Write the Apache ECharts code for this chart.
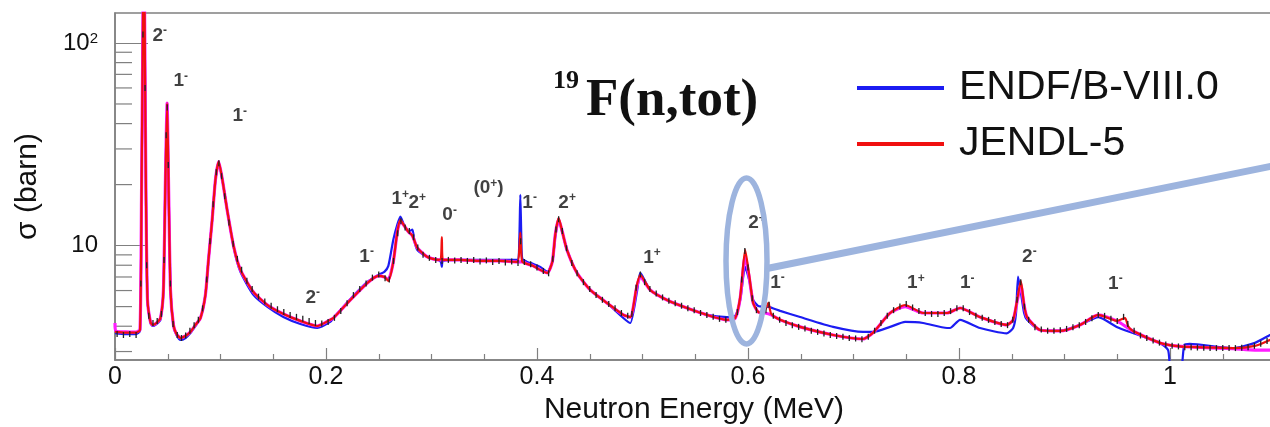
<!DOCTYPE html>
<html>
<head>
<meta charset="utf-8">
<script src="https://cdn.jsdelivr.net/npm/echarts@6/dist/echarts.min.js"></script>
<style>
  html, body { margin: 0; padding: 0; background: #ffffff; }
  #chart { width: 1270px; height: 427px; }
</style>
</head>
<body>
<div id="chart"></div>
<script>
// Total cross section of 19F, [neutron energy (MeV), sigma (barn)]

// ENDF/B-VIII.0 evaluation
const endfB8 = [
  [0,3.70],[0.010,3.66],[0.020,3.66],[0.0237,3.79],[0.0251,16.8],[0.0265,130],[0.0273,400],[0.0281,130],
  [0.0294,16.8],[0.0308,5.39],[0.0336,4.15],[0.0355,4.01],[0.0393,4.10],[0.0431,4.30],[0.0459,6.04],
  [0.0478,21.1],[0.0494,50.0],[0.0507,21.1],[0.0526,6.04],[0.0554,4.01],[0.0583,3.62],[0.0621,3.42],
  [0.0668,3.50],[0.0715,3.70],[0.0763,4.01],[0.0810,4.39],[0.0857,5.71],[0.0886,8.50],[0.0921,13.4],
  [0.0952,21.1],[0.0983,25.7],[0.1018,21.1],[0.1063,15.0],[0.1126,9.74],[0.1189,7.42],[0.1312,5.71],
  [0.1445,4.98],[0.1596,4.44],[0.1757,4.10],[0.1918,3.92],[0.2040,4.20],[0.2070,4.39],[0.2231,5.45],
  [0.2392,6.62],[0.2496,7.17],[0.2553,7.42],[0.2591,7.94],[0.2638,10.7],[0.2676,12.7],[0.2705,13.9],
  [0.2743,12.5],[0.2781,11.7],[0.2819,12.0],[0.2838,10.5],[0.2866,9.52],[0.2961,8.79],[0.3065,8.50],
  [0.3089,8.31],[0.3098,7.85],[0.3108,8.40],[0.3273,8.50],[0.3463,8.50],[0.3652,8.50],[0.3813,8.50],
  [0.3832,10.7],[0.3842,17.8],[0.3852,10.7],[0.3861,8.60],[0.3908,8.31],[0.3965,8.12],[0.4031,7.85],
  [0.4098,7.42],[0.4145,8.31],[0.4173,11.0],[0.4205,13.4],[0.4240,11.6],[0.4284,9.52],[0.4379,7.33],
  [0.4505,6.04],[0.4663,5.21],[0.4818,4.39],[0.4884,4.15],[0.4947,5.90],[0.4979,7.33],[0.5073,6.04],
  [0.5232,5.39],[0.5421,4.92],[0.5611,4.55],[0.5800,4.44],[0.5879,4.50],[0.5926,5.39],[0.5973,7.85],
  [0.6011,6.77],[0.6049,5.39],[0.6097,5.04],[0.6194,4.98],[0.6305,4.76],[0.6494,4.44],[0.6807,3.97],
  [0.7091,3.75],[0.7186,3.75],[0.7347,3.97],[0.7490,4.20],[0.7660,4.15],[0.7887,3.92],[0.7915,3.92],
  [0.8010,4.30],[0.8199,3.92],[0.8453,3.69],[0.8513,3.92],[0.8540,4.60],[0.8560,7.04],[0.8586,5.90],
  [0.8617,4.65],[0.8645,4.30],[0.8768,3.83],[0.8957,3.79],[0.9147,4.06],[0.9321,4.44],[0.9495,3.97],
  [0.9649,3.70],[0.9905,3.31],[0.9982,3.05],[1.0010,2.40],[1.0100,2.40],[1.0135,3.23],[1.0187,3.27],
  [1.0598,3.12],[1.0805,3.31],[1.0947,3.62],[1.1000,3.75]
];

// JENDL-5 evaluation
const jendl5 = [
  [0,3.75],[0.010,3.72],[0.020,3.72],[0.0237,3.83],[0.0251,16.8],[0.0265,130],[0.0273,400],[0.0281,130],
  [0.0294,16.8],[0.0308,5.39],[0.0336,4.20],[0.0355,4.06],[0.0393,4.15],[0.0431,4.39],[0.0459,6.04],
  [0.0478,21.1],[0.0494,50.5],[0.0507,21.1],[0.0526,6.04],[0.0554,4.06],[0.0583,3.66],[0.0621,3.50],
  [0.0668,3.58],[0.0715,3.75],[0.0763,4.06],[0.0810,4.39],[0.0857,5.71],[0.0886,8.50],[0.0921,13.4],
  [0.0952,21.1],[0.0983,26.0],[0.1018,21.1],[0.1063,15.0],[0.1126,9.85],[0.1189,7.59],[0.1312,5.90],
  [0.1445,5.09],[0.1596,4.60],[0.1757,4.25],[0.1918,4.01],[0.2040,4.30],[0.2070,4.39],[0.2231,5.39],
  [0.2392,6.54],[0.2496,7.09],[0.2553,7.00],[0.2591,6.69],[0.2638,8.31],[0.2676,11.7],[0.2705,13.4],
  [0.2743,12.5],[0.2781,11.7],[0.2819,11.2],[0.2866,9.74],[0.2961,8.79],[0.3065,8.50],[0.3089,8.60],
  [0.3098,11.0],[0.3108,8.50],[0.3273,8.50],[0.3463,8.40],[0.3652,8.40],[0.3813,8.31],[0.3832,9.5],
  [0.3842,11.6],[0.3852,9.0],[0.3861,8.31],[0.3908,8.12],[0.3965,7.94],[0.4031,7.59],[0.4098,7.33],
  [0.4145,8.31],[0.4173,11.3],[0.4205,13.7],[0.4240,11.7],[0.4284,9.52],[0.4379,7.33],[0.4505,6.04],
  [0.4663,5.21],[0.4818,4.55],[0.4884,4.44],[0.4947,6.40],[0.4979,7.17],[0.5073,6.04],[0.5232,5.39],
  [0.5421,4.92],[0.5611,4.55],[0.5800,4.30],[0.5879,4.39],[0.5926,5.58],[0.5973,9.52],[0.6011,7.17],
  [0.6049,5.21],[0.6097,4.70],[0.6134,4.65],[0.6163,4.81],[0.6194,5.21],[0.6220,4.60],[0.6305,4.30],
  [0.6494,3.97],[0.6807,3.62],[0.7091,3.46],[0.7186,3.72],[0.7347,4.65],[0.7490,5.09],[0.7660,4.65],
  [0.7887,4.65],[0.8010,4.92],[0.8199,4.44],[0.8453,4.06],[0.8513,4.30],[0.8551,5.39],[0.8586,6.69],
  [0.8617,5.09],[0.8645,4.44],[0.8768,3.83],[0.8957,3.79],[0.9147,4.06],[0.9321,4.55],[0.9495,4.25],
  [0.9574,4.39],[0.9602,4.01],[0.9649,3.79],[0.9905,3.31],[1.0047,3.20],[1.0187,3.16],[1.0598,3.12],
  [1.0805,3.20],[1.0947,3.42],[1.1000,3.50]
];

// R-matrix fit
const rmatrixFit = [
  [0,4.15],[0.0008,3.79],[0.010,3.75],[0.020,3.74],[0.0237,3.85],[0.0251,16.8],[0.0265,130],[0.0273,400],
  [0.0281,130],[0.0294,16.8],[0.0308,5.39],[0.0336,4.20],[0.0355,4.06],[0.0393,4.15],[0.0431,4.39],
  [0.0459,6.04],[0.0478,21.1],[0.0494,50.5],[0.0507,21.1],[0.0526,6.04],[0.0554,4.06],[0.0583,3.66],
  [0.0621,3.50],[0.0668,3.58],[0.0715,3.75],[0.0763,4.06],[0.0810,4.39],[0.0857,5.71],[0.0886,8.50],
  [0.0921,13.4],[0.0952,21.1],[0.0983,26.0],[0.1018,21.1],[0.1063,15.0],[0.1126,9.85],[0.1189,7.59],
  [0.1312,5.90],[0.1445,5.09],[0.1596,4.60],[0.1757,4.25],[0.1918,4.01],[0.2040,4.30],[0.2070,4.39],
  [0.2231,5.39],[0.2392,6.54],[0.2496,7.09],[0.2553,7.00],[0.2591,6.80],[0.2638,8.31],[0.2676,11.7],
  [0.2705,13.2],[0.2743,12.5],[0.2781,11.7],[0.2819,11.2],[0.2866,9.74],[0.2961,8.79],[0.3065,8.50],
  [0.3273,8.50],[0.3463,8.40],[0.3652,8.40],[0.3813,8.31],[0.3861,8.31],[0.3908,8.12],[0.3965,7.94],
  [0.4031,7.59],[0.4098,7.33],[0.4145,8.31],[0.4173,11.3],[0.4205,13.5],[0.4240,11.7],[0.4284,9.52],
  [0.4379,7.33],[0.4505,6.04],[0.4663,5.21],[0.4818,4.55],[0.4884,4.44],[0.4947,6.30],[0.4979,7.00],
  [0.5073,6.04],[0.5232,5.39],[0.5421,4.92],[0.5611,4.55],[0.5800,4.30],[0.5879,4.39],[0.5926,5.50],
  [0.5973,8.90],[0.6011,7.00],[0.6049,5.21],[0.6097,4.70],[0.6163,4.65],[0.6220,4.55],[0.6305,4.30],
  [0.6494,3.97],[0.6807,3.62],[0.7091,3.46],[0.7186,3.72],[0.7347,4.65],[0.7490,5.00],[0.7660,4.65],
  [0.7887,4.65],[0.8010,4.92],[0.8199,4.44],[0.8453,4.06],[0.8513,4.30],[0.8551,5.30],[0.8586,6.40],
  [0.8617,5.09],[0.8645,4.44],[0.8768,3.83],[0.8957,3.79],[0.9147,4.06],[0.9321,4.55],[0.9495,4.25],
  [0.9649,3.79],[0.9905,3.31],[1.0047,3.20],[1.0187,3.16],[1.0598,3.10],[1.0805,3.05],[1.1000,3.05]
];

// Transmission measurement
const measured = [
  [0.002,3.66],[0.008,3.62],[0.014,3.66],[0.020,3.62],[0.0245,6.5],[0.0265,110],[0.0275,180],[0.0285,60],
  [0.030,8.0],[0.032,4.5],[0.036,4.15],[0.040,4.25],[0.044,4.6],[0.0465,8.5],[0.0485,35],[0.0495,48],
  [0.0505,25],[0.0525,6.5],[0.055,4.1],[0.059,3.62],[0.063,3.50],[0.067,3.60],[0.071,3.80],[0.075,4.05],
  [0.079,4.3],[0.083,4.9],[0.087,6.8],[0.090,10.5],[0.093,16],[0.096,23],[0.0985,25.5],[0.101,22],
  [0.104,17.5],[0.108,13],[0.112,10.2],[0.116,8.6],[0.120,7.6],[0.125,6.7],[0.130,6.1],[0.136,5.6],
  [0.142,5.3],[0.148,5.05],[0.154,4.85],[0.160,4.7],[0.166,4.55],[0.172,4.45],[0.178,4.35],[0.184,4.25],
  [0.190,4.15],[0.196,4.12],[0.202,4.2],[0.208,4.4],[0.214,4.75],[0.220,5.2],[0.226,5.7],[0.232,6.1],
  [0.238,6.5],[0.244,6.95],[0.250,7.2],[0.256,6.9],[0.260,6.8],[0.264,8.4],[0.268,11.5],[0.271,13.2],
  [0.275,12.3],[0.279,11.8],[0.283,11.0],[0.287,9.8],[0.292,9.0],[0.298,8.7],[0.304,8.5],[0.310,8.4],
  [0.316,8.5],[0.322,8.45],[0.328,8.5],[0.334,8.4],[0.340,8.5],[0.346,8.35],[0.352,8.45],[0.358,8.3],
  [0.364,8.4],[0.370,8.25],[0.376,8.35],[0.382,8.2],[0.3845,10.5],[0.388,8.3],[0.394,8.1],[0.400,7.8],
  [0.406,7.5],[0.411,7.3],[0.415,8.6],[0.418,12],[0.4205,13.5],[0.424,11.8],[0.428,9.7],[0.433,8.2],
  [0.438,7.3],[0.444,6.6],[0.450,6.1],[0.456,5.7],[0.462,5.4],[0.468,5.15],[0.474,4.9],[0.480,4.65],
  [0.486,4.5],[0.490,4.6],[0.494,6.2],[0.498,7.2],[0.502,6.6],[0.507,6.1],[0.513,5.8],[0.519,5.55],
  [0.525,5.35],[0.531,5.2],[0.537,5.05],[0.543,4.9],[0.549,4.8],[0.555,4.65],[0.561,4.55],[0.567,4.45],
  [0.573,4.35],[0.579,4.3],[0.585,4.3],[0.590,4.7],[0.594,6.8],[0.597,9.4],[0.600,7.8],[0.604,5.5],
  [0.608,4.8],[0.613,4.6],[0.617,4.8],[0.620,5.1],[0.624,4.5],[0.630,4.3],[0.636,4.15],[0.642,4.05],
  [0.648,3.97],[0.654,3.9],[0.660,3.8],[0.666,3.75],[0.672,3.68],[0.678,3.62],[0.684,3.58],[0.690,3.55],
  [0.696,3.5],[0.702,3.48],[0.708,3.45],[0.714,3.55],[0.720,3.8],[0.726,4.15],[0.732,4.5],[0.738,4.8],
  [0.744,5.0],[0.750,5.15],[0.756,4.95],[0.762,4.75],[0.768,4.65],[0.774,4.6],[0.780,4.6],[0.786,4.65],
  [0.792,4.75],[0.798,4.9],[0.804,4.9],[0.810,4.7],[0.816,4.5],[0.822,4.4],[0.828,4.3],[0.834,4.2],
  [0.840,4.1],[0.846,4.05],[0.851,4.3],[0.855,5.4],[0.8585,6.6],[0.862,5.0],[0.866,4.3],[0.872,3.95],
  [0.878,3.85],[0.884,3.8],[0.890,3.8],[0.896,3.82],[0.902,3.88],[0.908,3.95],[0.914,4.05],[0.920,4.2],
  [0.926,4.38],[0.932,4.55],[0.938,4.5],[0.944,4.35],[0.950,4.25],[0.956,4.45],[0.960,4.1],[0.966,3.8],
  [0.972,3.6],[0.978,3.5],[0.984,3.4],[0.990,3.32],[0.996,3.25],[1.002,3.2],[1.008,3.18],[1.014,3.15],
  [1.020,3.15],[1.026,3.14],[1.032,3.13],[1.038,3.12],[1.044,3.12],[1.050,3.12],[1.056,3.12],[1.062,3.12],
  [1.068,3.13],[1.074,3.15],[1.080,3.2],[1.086,3.28],[1.092,3.38]
];

// Spin-parity assignments and where their labels sit [MeV, barn]
const levelNames = ['2-','1-','1-','2-','1-','1+','2+','0-','(0+)','1-','2+','1+','2+','1-','1+','1-','2-','1-'];
const levelAnchors = [
  [0.0355,109],[0.0554,64.8],[0.1113,43.5],[0.1805,5.55],[0.2316,8.84],[0.2620,17.0],[0.2781,16.35],
  [0.3103,14.2],[0.3397,19.2],[0.3861,16.35],[0.4202,16.35],[0.5007,8.74],[0.6002,12.9],[0.6210,6.58],
  [0.7508,6.54],[0.8010,6.54],[0.8598,8.84],[0.9413,6.51]
];

// Axis ticks
const yDecades = [10, 100];
const yDecadeText = ['10', '10{sup|2}'];
const yMinorTicks = [3, 4, 5, 6, 7, 8, 9, 20, 30, 40, 50, 60, 70, 80, 90];

const AXIS_GREY = '#808080';
const SANS = '"Liberation Sans", Arial, sans-serif';
const SERIF = '"Liberation Serif", "Times New Roman", serif';
const HALO = '#9db4de';

const chart = echarts.init(document.getElementById('chart'), null, { renderer: 'canvas' });

chart.setOption({
  animation: false,
  backgroundColor: '#ffffff',
  grid: {
    left: 115, top: 13, width: 1266, height: 347,
    outerBoundsMode: 'none',
    show: true, borderColor: AXIS_GREY, borderWidth: 1.5, backgroundColor: 'transparent',
    containLabel: false
  },
  legend: {
    data: ['ENDF/B-VIII.0', 'JENDL-5'],
    orient: 'vertical', left: 852, top: 61,
    icon: 'rect', itemWidth: 87, itemHeight: 4, itemGap: 12,
    selectedMode: false,
    textStyle: { fontSize: 41, lineHeight: 44, color: '#111', fontFamily: SANS, padding: [0, 0, 0, 10] }
  },
  xAxis: {
    type: 'value', min: 0, max: 1.2, interval: 0.2,
    name: 'Neutron Energy (MeV)', nameLocation: 'middle', nameGap: 30,
    nameTextStyle: { fontSize: 30, color: '#111', fontFamily: SANS, padding: [0, 108, 0, 0] },
    axisLine: { show: true, lineStyle: { color: AXIS_GREY, width: 1.5 } },
    axisTick: { show: true, inside: true, length: 12, lineStyle: { color: AXIS_GREY, width: 1.2 } },
    minorTick: { show: true, splitNumber: 4, length: 6, lineStyle: { color: AXIS_GREY, width: 1.2 } },
    axisLabel: { fontSize: 25, color: '#111', fontFamily: SANS, margin: 5, showMaxLabel: false },
    splitLine: { show: false }
  },
  yAxis: {
    type: 'log', logBase: 10, min: 2.725, max: 140.6,
    name: 'σ (barn)', nameLocation: 'middle', nameGap: 72,
    nameTextStyle: { fontSize: 30, color: '#111', fontFamily: SANS },
    axisLine: { show: true, lineStyle: { color: AXIS_GREY, width: 1.5 } },
    axisTick: { show: true, inside: true, length: 33, lineStyle: { color: AXIS_GREY, width: 1.2 } },
    axisLabel: {
      fontSize: 24, color: '#111', fontFamily: SANS, margin: 17,
      showMinLabel: false, showMaxLabel: false,
      formatter: v => {
        const i = yDecades.findIndex(d => Math.abs(Math.log10(v) - Math.log10(d)) < 1e-6);
        return i < 0 ? '' : yDecadeText[i];
      },
      rich: { sup: { fontSize: 15, color: '#111', fontFamily: SANS, verticalAlign: 'top', lineHeight: 15 } }
    },
    splitLine: { show: false }
  },
  series: [
    {
      // log-axis minor ticks (2..9 per decade)
      type: 'custom', silent: true, z: 1,
      data: yMinorTicks.map(v => [0, v]),
      renderItem: (params, api) => {
        const p = api.coord([0, api.value(1)]);
        return {
          type: 'line',
          shape: { x1: p[0], y1: p[1], x2: p[0] + 17, y2: p[1] },
          style: { stroke: AXIS_GREY, lineWidth: 1.2 }
        };
      }
    },
    {
      name: 'ENDF/B-VIII.0', type: 'line', data: endfB8, z: 2,
      showSymbol: false, smooth: 0.2, color: '#1c1cf2',
      lineStyle: { color: '#1c1cf2', width: 2.2 }
    },
    {
      name: 'fit', type: 'line', data: rmatrixFit, z: 3,
      showSymbol: false, smooth: 0.2, color: '#ff1cff',
      lineStyle: { color: '#ff1cff', width: 3.2 }
    },
    {
      name: 'JENDL-5', type: 'line', data: jendl5, z: 4,
      showSymbol: false, smooth: 0.2, color: '#f01010',
      lineStyle: { color: '#f01010', width: 2.2 }
    },
    {
      name: 'data', type: 'line', data: measured, z: 5,
      symbol: 'rect', symbolSize: [1.3, 6], showSymbol: true, showAllSymbol: true,
      itemStyle: { color: '#222' },
      lineStyle: { width: 0, opacity: 0 }
    },
    {
      // J^pi labels of the resonances
      type: 'scatter', silent: true, z: 6, symbolSize: 0,
      data: levelAnchors.map((p, i) => ({ value: p, name: levelNames[i] })),
      label: {
        show: true, position: [0, 0], align: 'left', verticalAlign: 'middle',
        fontSize: 19, fontWeight: 'bold', color: '#111', fontFamily: SANS, lineHeight: 21,
        formatter: p => p.name.replace(/([+-])/g, '{s|$1}'),
        rich: { s: { fontSize: 12, fontWeight: 'bold', color: '#111', fontFamily: SANS, verticalAlign: 'top', lineHeight: 12 } }
      }
    }
  ],
  graphic: {
    elements: [
      { type: 'text', left: 553, top: 68, z: 10,
        style: { text: '19', font: 'bold 26px ' + SERIF, fill: '#111' } },
      { type: 'text', left: 586, top: 75, z: 10,
        style: { text: 'F(n,tot)', font: 'bold 53px ' + SERIF, fill: '#111' } },
      { type: 'ellipse', z: 10, silent: true,
        shape: { cx: 746.5, cy: 261, rx: 20.5, ry: 83 },
        style: { fill: 'none', stroke: HALO, lineWidth: 5.5 } },
      { type: 'line', z: 10, silent: true,
        shape: { x1: 767, y1: 268.5, x2: 1275, y2: 165.5 },
        style: { stroke: HALO, lineWidth: 7 } }
    ]
  }
});
</script>
</body>
</html>
